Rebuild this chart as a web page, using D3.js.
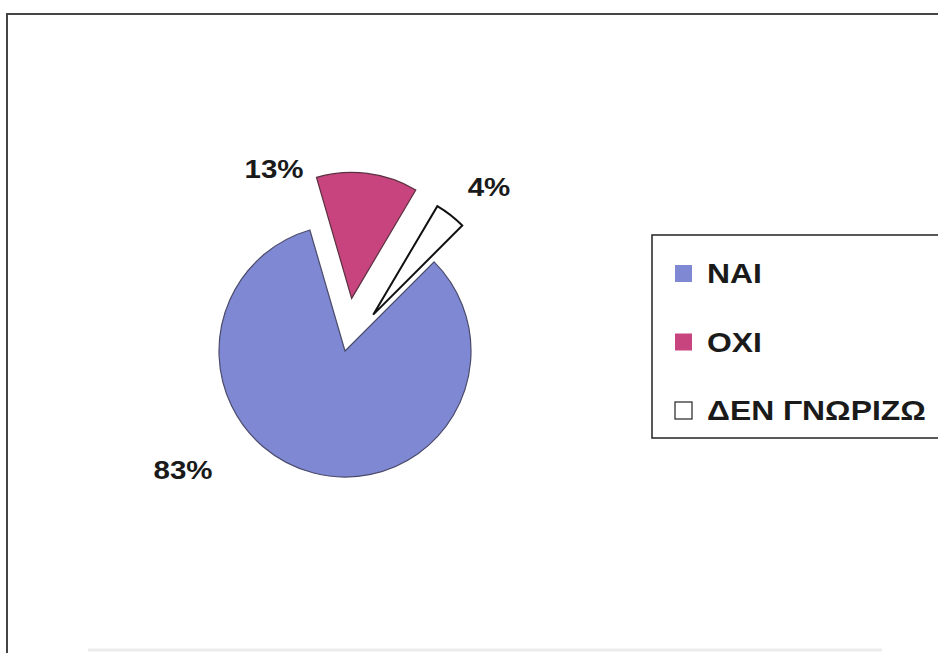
<!DOCTYPE html>
<html>
<head>
<meta charset="utf-8">
<script src="https://cdn.jsdelivr.net/npm/d3@7/dist/d3.min.js"></script>
<style>
  html, body { margin: 0; padding: 0; background: #fff; }
  svg { display: block; }
  text { font-family: "Liberation Sans", Arial, sans-serif; fill: #1a1a1a; }
</style>
</head>
<body>
<svg id="chart" width="938" height="653"></svg>
<script>
// Survey answers and their shares (%)
const categories = ["NAI", "OXI", "ΔΕΝ ΓΝΩΡΙΖΩ"];
const values = [83, 13, 4];
const percentLabels = ["83%", "13%", "4%"];

const colors = ["#7f88d2", "#c8447f", "#ffffff"];
const strokes = ["#4a4a6a", "#5a3040", "#111111"];
const explode = [0, 53, 46];

const svg = d3.select("#chart");
const W = 938, H = 653;

// Outer frame (top and left edges visible)
svg.append("line").attr("x1", 6).attr("y1", 14).attr("x2", W).attr("y2", 14)
  .attr("stroke", "#444").attr("stroke-width", 2);
svg.append("line").attr("x1", 7).attr("y1", 14).attr("x2", 7).attr("y2", H)
  .attr("stroke", "#444").attr("stroke-width", 2);
svg.append("line").attr("x1", 88).attr("y1", 650).attr("x2", 882).attr("y2", 650)
  .attr("stroke", "#ececec").attr("stroke-width", 3);

// Pie
const cx = 345, cy = 351, R = 126;
const pie = d3.pie().sort(null).value(d => d)
  .startAngle(Math.PI / 4).endAngle(Math.PI / 4 + 2 * Math.PI);
const arcs = pie(values);
const arc = d3.arc().innerRadius(0).outerRadius(R);

const g = svg.append("g").attr("transform", `translate(${cx},${cy})`);
g.selectAll("path.slice").data(arcs).enter().append("path")
  .attr("class", "slice")
  .attr("d", arc)
  .attr("transform", (d, i) => {
    const mid = (d.startAngle + d.endAngle) / 2;
    return `translate(${explode[i] * Math.sin(mid)},${-explode[i] * Math.cos(mid)})`;
  })
  .attr("fill", (d, i) => colors[i])
  .attr("stroke", (d, i) => strokes[i])
  .attr("stroke-width", (d, i) => i === 2 ? 2 : 1.2)
  .attr("stroke-linejoin", "miter");

// Percentage labels, placed around the pie
const labelPos = [[183, 479], [274, 178], [489, 196]];
svg.selectAll("text.pct").data(arcs).enter().append("text")
  .attr("class", "pct")
  .attr("transform", (d, i) => `translate(${labelPos[i][0]},${labelPos[i][1]}) scale(1.18,1)`)
  .attr("text-anchor", "middle")
  .attr("font-size", 25)
  .attr("font-weight", "bold")
  .text((d, i) => percentLabels[i]);

// Legend
const lg = svg.append("g");
lg.append("rect").attr("x", 652).attr("y", 235).attr("width", 300).attr("height", 203)
  .attr("fill", "#fff").attr("stroke", "#222").attr("stroke-width", 1.5);

const rowY = d3.scalePoint().domain(categories).range([283, 420]);
const items = lg.selectAll("g.item").data(categories).enter().append("g")
  .attr("class", "item")
  .attr("transform", d => `translate(675,${rowY(d)})`);
items.append("rect")
  .attr("x", 0).attr("y", -18).attr("width", 17).attr("height", 17)
  .attr("fill", (d, i) => colors[i])
  .attr("stroke", (d, i) => i === 2 ? "#222" : "none")
  .attr("stroke-width", 1.2);
items.append("text")
  .attr("transform", "translate(32,0) scale(1.18,1)")
  .attr("font-size", 27)
  .attr("font-weight", "bold")
  .text(d => d);
</script>
</body>
</html>
